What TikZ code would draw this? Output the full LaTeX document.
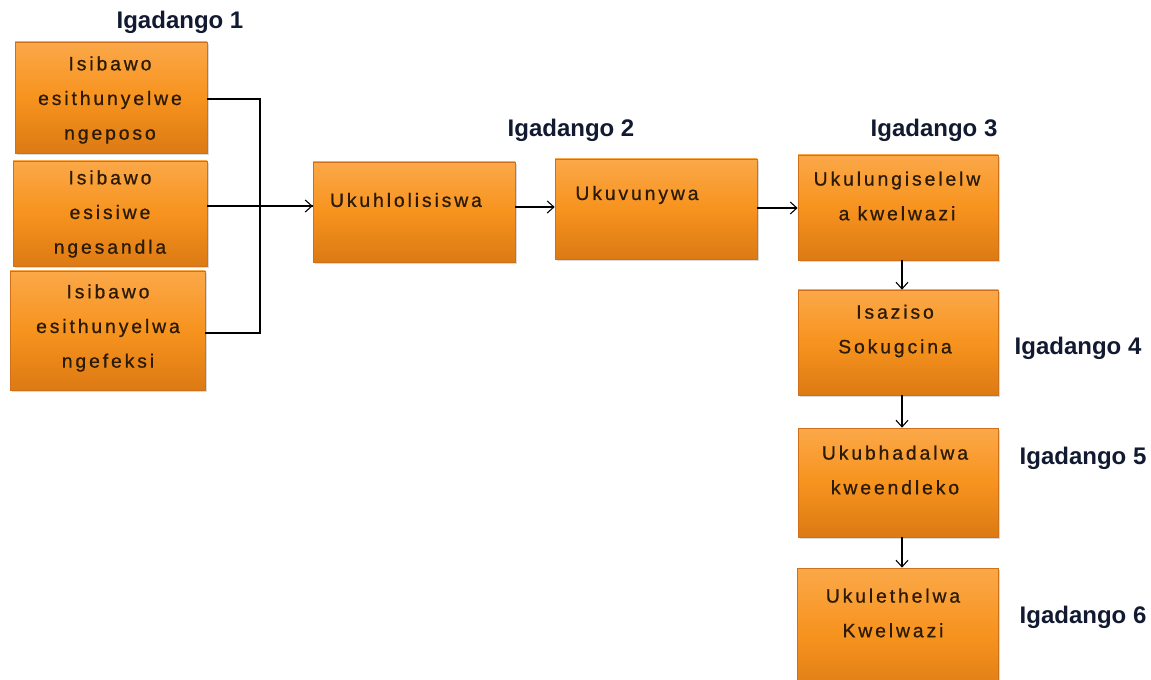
\documentclass[tikz,border=0pt]{standalone}
\usepackage{fontspec}
\setmainfont{Liberation Sans}
\usetikzlibrary{arrows.meta,fit,shadows}
\definecolor{orA}{HTML}{FBA849}
\definecolor{orB}{HTML}{F7931E}
\definecolor{orC}{HTML}{DC7A14}
\definecolor{orEdge}{HTML}{D07018}
\definecolor{boxtxt}{HTML}{2A1A06}
\definecolor{lbl}{HTML}{111A30}
\begin{document}
\begin{tikzpicture}[x=0.75pt,y=-0.75pt,
  box/.style={draw=orEdge,line width=0.5pt,inner sep=0pt,
    top color=orA,bottom color=orC,middle color=orB,
    drop shadow={shadow xshift=1.5pt,shadow yshift=-1.5pt,opacity=0.3}},
  btxt/.style={align=center,text=boxtxt,inner sep=0pt,
    font=\fontsize{14.5}{26}\selectfont\addfontfeatures{LetterSpace=15,FakeBold=0.8}},
  lab/.style={text=lbl,inner sep=0pt,font=\fontsize{18}{20}\selectfont\bfseries},
  ln/.style={draw=black,line width=0.8pt},
  arr/.style={ln,-{Straight Barb[length=5pt,width=9pt]}}]
\useasboundingbox (0,0) rectangle (1151,680);
% boxes
\node[box,fit={(15,42) (207,153)}] (a1) {};
\node[box,fit={(13,161) (207,266)}] (a2) {};
\node[box,fit={(10,271) (205,390)}] (a3) {};
\node[box,fit={(313,162) (515,262)}] (b) {};
\node[box,fit={(555,159) (757,259)}] (c) {};
\node[box,fit={(798,155) (998,260)}] (d) {};
\node[box,fit={(798,290) (998,395)}] (e) {};
\node[box,fit={(798,428) (998,537)}] (f) {};
\node[box,fit={(797,568) (998,700)}] (g) {};
% box texts
\node[btxt] (ta1) at (110,100) {Isibawo\\esithunyelwe\\ngeposo};
\node[btxt] (ta2) at (110,214) {Isibawo\\esisiwe\\ngesandla};
\node[btxt] (ta3) at (108,328) {Isibawo\\esithunyelwa\\ngefeksi};
\node[btxt] (tb) at (406,200) {Ukuhlolisiswa};
\node[btxt] (tc) at (637,195) {Ukuvunywa};
\node[btxt] (td) at (897,196) {Ukulungiselelw\\a kwelwazi};
\node[btxt] (te) at (895,331) {Isaziso\\Sokugcina};
\node[btxt] (tf) at (895,470) {Ukubhadalwa\\kweendleko};
\node[btxt] (tg) at (893,613) {Ukulethelwa\\Kwelwazi};
% labels
\node[lab] (l1) at (180,22) {Igadango 1};
\node[lab] (l2) at (571,130) {Igadango 2};
\node[lab] (l3) at (934,130) {Igadango 3};
\node[lab] (l4) at (1078,348) {Igadango 4};
\node[lab] (l5) at (1083,458) {Igadango 5};
\node[lab] (l6) at (1083,617) {Igadango 6};
% connectors
\coordinate (j1) at (260,99);
\coordinate (j2) at (260,206);
\coordinate (j3) at (260,333);
\draw[ln] (a1.east |- j1) -- (j1) -- (j2);
\draw[ln] (a3.east |- j3) -- (j3) -- (j2);
\draw[arr] (a2.east |- j2) -- (b.west |- j2);
\draw[ln,line width=1.6pt] (j2) -- (b.west |- j2);
\coordinate (k1) at (0,207);
\coordinate (k2) at (0,208);
\draw[arr] (b.east |- k1) -- (c.west |- k1);
\draw[arr] (c.east |- k2) -- (d.west |- k2);
\coordinate (v) at (902,0);
\draw[arr] (d.south -| v) -- (e.north -| v);
\draw[arr] (e.south -| v) -- (f.north -| v);
\draw[arr] (f.south -| v) -- (g.north -| v);
\end{tikzpicture}
\end{document}
